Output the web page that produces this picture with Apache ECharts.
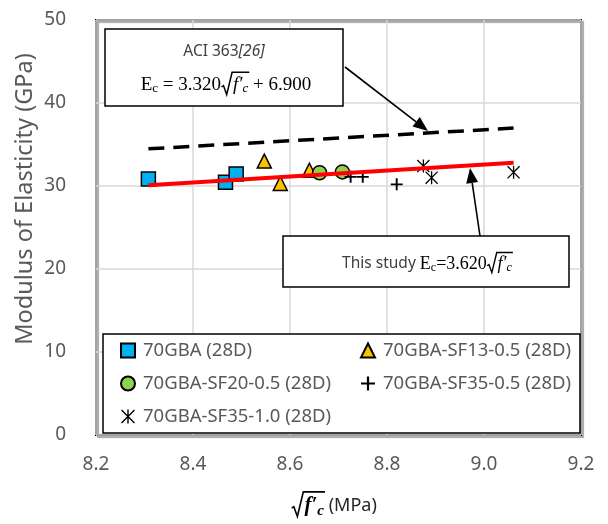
<!DOCTYPE html>
<html><head><meta charset="utf-8">
<script src="https://cdn.jsdelivr.net/npm/echarts@6/dist/echarts.min.js"></script>
<style>html,body{margin:0;padding:0;background:#fff}#c{width:608px;height:524px}</style>
</head><body><div id="c"></div>
<script>
// ---- data ----
const xTickMin = 8.2, xTickMax = 9.2, xTickStep = 0.2;
const yTickMin = 0, yTickMax = 50, yTickStep = 10;
const seriesNames = ['70GBA (28D)', '70GBA-SF13-0.5 (28D)', '70GBA-SF20-0.5 (28D)', '70GBA-SF35-0.5 (28D)', '70GBA-SF35-1.0 (28D)'];
const gba70   = [[8.308, 30.84], [8.467, 30.45], [8.489, 31.45]];
const sf13_05 = [[8.547, 33.0], [8.580, 30.3], [8.640, 31.9]];
const sf20_05 = [[8.661, 31.6], [8.708, 31.7]];
const sf35_05 = [[8.725, 31.1], [8.750, 31.1], [8.820, 30.2]];
const sf35_10 = [[8.875, 32.4], [8.892, 31.0], [9.061, 31.65]];
const aciLine   = [[8.308, 34.48], [9.061, 36.98]];
const studyLine = [[8.308, 30.08], [9.061, 32.80]];

// ---- helpers ----
const mctx = document.createElement('canvas').getContext('2d');
function fstr(p){ return (p.style||'normal')+' '+(p.weight||'normal')+' '+p.size+'px '+p.family; }
function tw(p){ if (p.rad) return p.size*0.6; mctx.font = fstr(p); return mctx.measureText(p.t).width; }
const SERIF = "'Liberation Serif'";
const SANS = "'Noto Sans'";
function equation(parts, cx, cy, z){
  const widths = parts.map(tw);
  const total = widths.reduce((a,b)=>a+b,0);
  let x = cx - total/2;
  const els = [];
  let rad = null, olEnd = null;
  parts.forEach((p,i)=>{
    if (p.rad){
      rad = {x:x, s:p.size, lw:p.lw||p.size*0.07};
    } else {
      els.push({type:'text', z:z, style:{text:p.t, x:x, y:cy+(p.dy||0), fontSize:p.size, fontFamily:p.family,
        fontStyle:p.style||'normal', fontWeight:p.weight||'normal', fill:p.color||'#000', verticalAlign:'middle', align:'left'}});
    }
    if (p.ol){ olEnd = x + widths[i] + 1; }
    x += widths[i];
  });
  if (rad && olEnd !== null){
    const s = rad.s, rx = rad.x, top = cy - 0.64*s;
    els.push({type:'polyline', z:z, shape:{points:[
      [rx+0.02*s, cy+0.10*s], [rx+0.12*s, cy+0.03*s], [rx+0.28*s, cy+0.48*s], [rx+0.55*s, top], [olEnd, top]
    ]}, style:{stroke:'#000', lineWidth:rad.lw, fill:null, lineJoin:'miter'}});
  }
  return els;
}
function arrow(x1,y1,x2,y2,z){
  const a=Math.atan2(y2-y1,x2-x1), L=15, W=6;
  const bx=x2-L*Math.cos(a), by=y2-L*Math.sin(a), px=-Math.sin(a)*W, py=Math.cos(a)*W;
  return [{type:'line', z:z, shape:{x1:x1,y1:y1,x2:bx,y2:by}, style:{stroke:'#000', lineWidth:1.6}},
          {type:'polygon', z:z, shape:{points:[[x2,y2],[bx+px,by+py],[bx-px,by-py]]}, style:{fill:'#000'}}];
}
const plusPath = 'path://M42,0H58V42H100V58H58V100H42V58H0V42H42Z';
const starPath = 'path://M45,0L55,0L55,100L45,100Z M0,7L7,0L100,93L93,100Z M93,0L100,7L7,100L0,93Z';

const chart = echarts.init(document.getElementById('c'), null, {renderer:'canvas'});
const lblColor = '#595959';
const mk = (name, data, symbol, size, color, bw) => ({
  name: name, type:'scatter', data: data, symbol: symbol, symbolSize: size, z: 3,
  itemStyle:{color: color, borderColor:'#000', borderWidth: bw, opacity:1}
});

const graphics = [];
// y axis title
graphics.push({type:'text', z:5, x:25, y:199, rotation:Math.PI/2,
  style:{text:'Modulus of Elasticity (GPa)', fontSize:23.5, fontFamily:SANS, fill:lblColor, align:'center', verticalAlign:'middle'}});
// x axis title
graphics.push(...equation([
  {rad:true, size:22, lw:1.6},
  {t:'f\u2032', size:21, family:SERIF, style:'italic', weight:'bold', ol:true},
  {t:'c', size:15, family:SERIF, style:'italic', weight:'bold', dy:5, ol:true},
  {t:' (MPa)', size:18, family:SANS, color:'#262626'}
], 334, 506, 5));
// legend box
graphics.push({type:'rect', z:3, shape:{x:103, y:334, width:477, height:99}, style:{fill:'#fff', stroke:'#000', lineWidth:1.5}});
// ACI box
graphics.push({type:'rect', z:5, shape:{x:105, y:29, width:238, height:77}, style:{fill:'#fff', stroke:'#000', lineWidth:1.5}});
graphics.push(...equation([
  {t:'ACI 363', size:15.5, family:SANS, color:'#404040'},
  {t:'[26]', size:15.5, family:SANS, style:'italic', color:'#404040'}
], 224, 52, 6));
graphics.push(...equation([
  {t:'E', size:19, family:SERIF},
  {t:'c', size:13, family:SERIF, dy:4},
  {t:' = 3.320', size:19, family:SERIF},
  {rad:true, size:20, lw:1.5},
  {t:'f\u2032', size:19, family:SERIF, style:'italic', ol:true},
  {t:'c', size:13, family:SERIF, style:'italic', dy:4, ol:true},
  {t:' + 6.900', size:19, family:SERIF}
], 226, 85, 6));
// This study box
graphics.push({type:'rect', z:5, shape:{x:283, y:236, width:286, height:51}, style:{fill:'#fff', stroke:'#000', lineWidth:1.5}});
graphics.push(...equation([
  {t:'This study ', size:15.5, family:SANS, color:'#404040'},
  {t:'E', size:18, family:SERIF},
  {t:'c', size:12, family:SERIF, dy:4},
  {t:'=3.620', size:18, family:SERIF},
  {rad:true, size:18, lw:1.4},
  {t:'f\u2032', size:18, family:SERIF, style:'italic', ol:true},
  {t:'c', size:12, family:SERIF, style:'italic', dy:4, ol:true}
], 427, 264, 6));
graphics.push(...arrow(345, 67, 428, 131, 6));
graphics.push(...arrow(480, 236, 470, 168, 6));

chart.setOption({
  animation:false,
  backgroundColor:'#fff',
  grid:{left:96, right:27, top:20, bottom:89, show:true, borderColor:'#000', borderWidth:2,
        shadowColor:'rgba(0,0,0,0.35)', shadowOffsetX:2, shadowOffsetY:2, shadowBlur:1},
  xAxis:{type:'value', min:xTickMin, max:xTickMax, interval:xTickStep,
    axisLine:{show:false}, axisTick:{show:false},
    splitLine:{lineStyle:{color:'#d9d9d9', width:1.5}},
    axisLabel:{color:lblColor, fontSize:19, fontFamily:SANS, margin:20, formatter:v=>v.toFixed(1)}},
  yAxis:{type:'value', min:yTickMin, max:yTickMax, interval:yTickStep,
    axisLine:{show:false}, axisTick:{show:false},
    splitLine:{lineStyle:{color:'#d9d9d9', width:1.5}},
    axisLabel:{color:lblColor, fontSize:19, fontFamily:SANS, margin:30}},
  legend:[
    {data:[seriesNames[0], seriesNames[2], seriesNames[4]], orient:'vertical', left:120, top:340, padding:0,
     itemWidth:14, itemHeight:14, itemGap:12, z:10,
     textStyle:{color:lblColor, fontSize:18.5, fontFamily:SANS, lineHeight:21, padding:[0,0,0,3]}},
    {data:[seriesNames[1], seriesNames[3]], orient:'vertical', left:360, top:340, padding:0,
     itemWidth:14, itemHeight:14, itemGap:12, z:10,
     textStyle:{color:lblColor, fontSize:18.5, fontFamily:SANS, lineHeight:21, padding:[0,0,0,3]}}
  ],
  graphic: graphics,
  series:[
    mk(seriesNames[0], gba70, 'rect', 14, '#00b0f0', 1.5),
    mk(seriesNames[1], sf13_05, 'triangle', 14, '#ffc000', 1.5),
    mk(seriesNames[2], sf20_05, 'circle', 14, '#92d050', 1.5),
    mk(seriesNames[3], sf35_05, plusPath, 12, '#000', 0),
    mk(seriesNames[4], sf35_10, starPath, 13, '#000', 0),
    {name:'ACI', type:'line', data:aciLine, symbol:'none', z:4, silent:true,
     lineStyle:{color:'#000', width:3.5, type:[16,9]}},
    {name:'Study', type:'line', data:studyLine, symbol:'none', z:4, silent:true,
     lineStyle:{color:'#ff0000', width:4}}
  ]
});
</script></body></html>
